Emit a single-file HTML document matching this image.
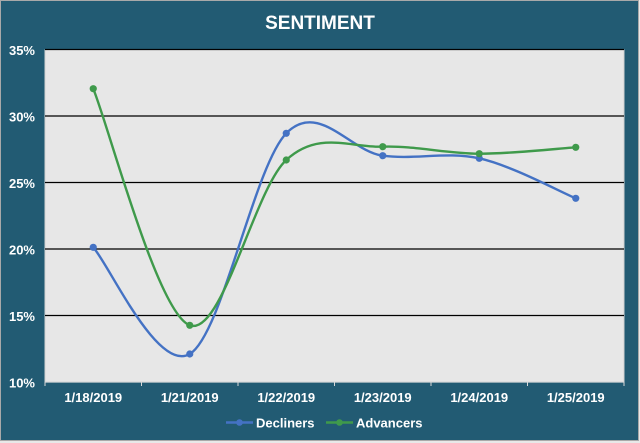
<!DOCTYPE html>
<html><head><meta charset="utf-8"><style>
html,body{margin:0;padding:0;background:#fff;}
svg{display:block;}
text{font-family:"Liberation Sans",Arial,sans-serif;font-weight:bold;fill:#fff;}
</style></head><body>
<svg width="640" height="443" viewBox="0 0 640 443" xmlns="http://www.w3.org/2000/svg">
<rect x="0" y="0" width="640" height="443" fill="#e8e8e8"/>
<rect x="0.5" y="0.5" width="638" height="440" fill="#225b73" stroke="#a9a9a9" stroke-width="1"/>
<text x="320" y="29" font-size="19" text-anchor="middle">SENTIMENT</text>
<rect x="45" y="49.5" width="579" height="332.5" fill="#e7e7e7"/>
<line x1="45" y1="49.5" x2="45" y2="382" stroke="#d0d0d0" stroke-width="1"/>
<line x1="624" y1="49.5" x2="624" y2="382" stroke="#d0d0d0" stroke-width="1"/>
<g stroke="#000" stroke-width="1.3">
<line x1="45" y1="49.5" x2="624" y2="49.5"/>
<line x1="45" y1="116" x2="624" y2="116"/>
<line x1="45" y1="182.5" x2="624" y2="182.5"/>
<line x1="45" y1="249" x2="624" y2="249"/>
<line x1="45" y1="315.5" x2="624" y2="315.5"/>
</g>
<line x1="45" y1="382" x2="624" y2="382" stroke="#d9d9d9" stroke-width="1.3"/>
<g stroke="#d9d9d9" stroke-width="1">
<line x1="45" y1="382" x2="45" y2="386"/>
<line x1="141.5" y1="382" x2="141.5" y2="386"/>
<line x1="238" y1="382" x2="238" y2="386"/>
<line x1="334.5" y1="382" x2="334.5" y2="386"/>
<line x1="431" y1="382" x2="431" y2="386"/>
<line x1="527.5" y1="382" x2="527.5" y2="386"/>
<line x1="624" y1="382" x2="624" y2="386"/>
</g>
<g font-size="13" text-anchor="end">
<text x="35" y="55">35%</text>
<text x="35" y="121.5">30%</text>
<text x="35" y="188">25%</text>
<text x="35" y="254.5">20%</text>
<text x="35" y="321">15%</text>
<text x="35" y="387.5">10%</text>
</g>
<g font-size="13" text-anchor="middle">
<text x="93.25" y="402">1/18/2019</text>
<text x="189.75" y="402">1/21/2019</text>
<text x="286.25" y="402">1/22/2019</text>
<text x="382.75" y="402">1/23/2019</text>
<text x="479.25" y="402">1/24/2019</text>
<text x="575.75" y="402">1/25/2019</text>
</g>
<path d="M93.25,247.3 C109.33,265.08 157.58,373 189.75,354 C221.92,335 254.08,166.35 286.25,133.3 C318.42,100.25 350.58,151.53 382.75,155.7 C414.92,159.87 447.08,151.2 479.25,158.3 C511.42,165.4 559.67,191.63 575.75,198.3" fill="none" stroke="#4472c4" stroke-width="2.4" stroke-linecap="round"/>
<path d="M93.25,88.7 C109.33,128.13 157.58,313.42 189.75,325.3 C221.92,337.18 254.08,189.77 286.25,160 C318.42,130.23 350.58,147.75 382.75,146.7 C414.92,145.65 447.08,153.6 479.25,153.7 C511.42,153.8 559.67,148.37 575.75,147.3" fill="none" stroke="#3f9a4b" stroke-width="2.4" stroke-linecap="round"/>
<g fill="#4472c4">
<circle cx="93.25" cy="247.3" r="3.6"/><circle cx="189.75" cy="354" r="3.6"/><circle cx="286.25" cy="133.3" r="3.6"/><circle cx="382.75" cy="155.7" r="3.6"/><circle cx="479.25" cy="158.3" r="3.6"/><circle cx="575.75" cy="198.3" r="3.6"/>
</g>
<g fill="#3f9a4b">
<circle cx="93.25" cy="88.7" r="3.6"/><circle cx="189.75" cy="325.3" r="3.6"/><circle cx="286.25" cy="160" r="3.6"/><circle cx="382.75" cy="146.7" r="3.6"/><circle cx="479.25" cy="153.7" r="3.6"/><circle cx="575.75" cy="147.3" r="3.6"/>
</g>
<line x1="226" y1="422.5" x2="253" y2="422.5" stroke="#4472c4" stroke-width="2.4"/>
<circle cx="239.5" cy="422.5" r="3.3" fill="#4472c4"/>
<text x="256" y="427.5" font-size="13">Decliners</text>
<line x1="326" y1="422.5" x2="353" y2="422.5" stroke="#3f9a4b" stroke-width="2.4"/>
<circle cx="339.5" cy="422.5" r="3.3" fill="#3f9a4b"/>
<text x="356" y="427.5" font-size="13">Advancers</text>
</svg>
</body></html>
